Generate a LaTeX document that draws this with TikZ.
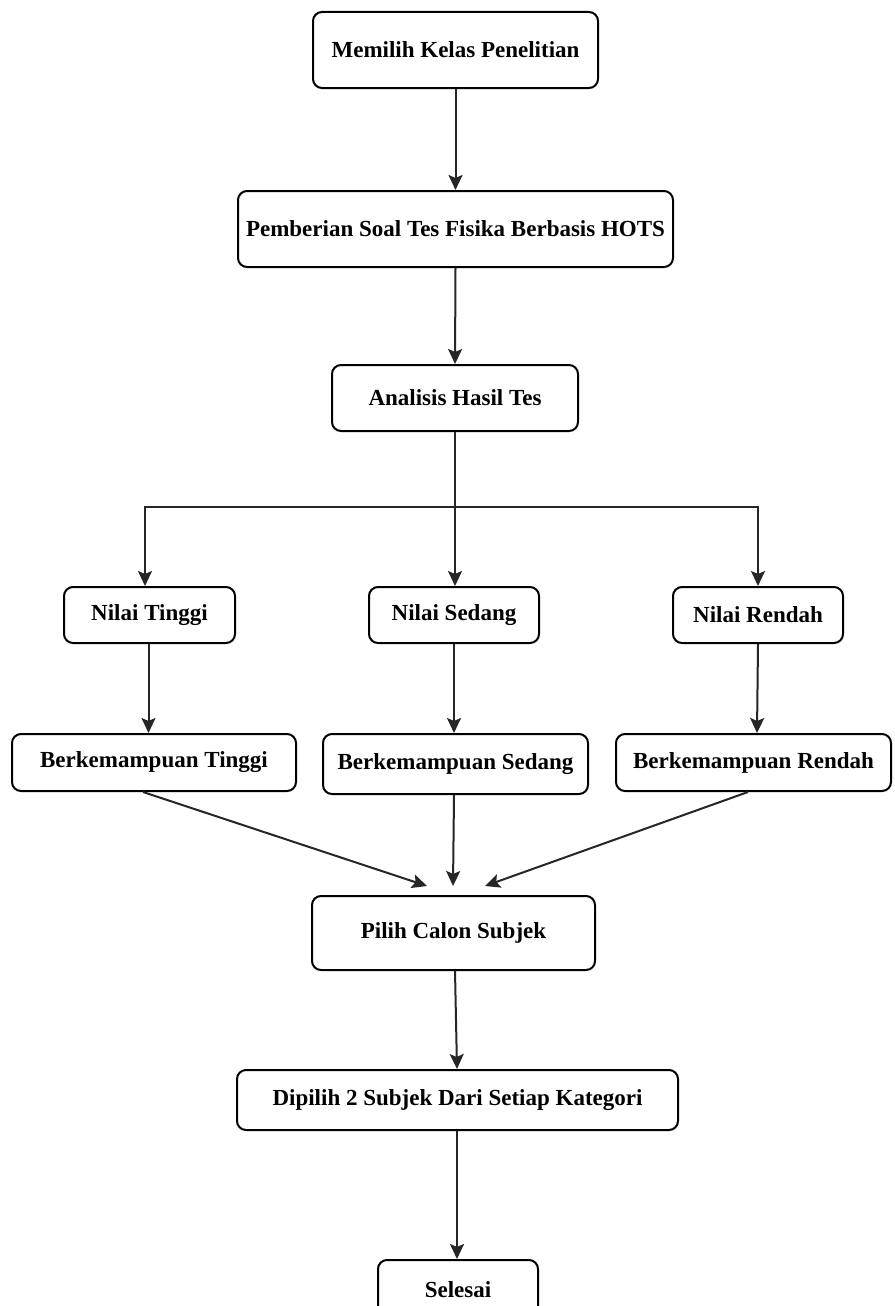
\documentclass[tikz,border=0pt]{standalone}
\usepackage{fontspec}
\setmainfont{Liberation Serif}
\usetikzlibrary{arrows.meta}
\begin{document}
\begin{tikzpicture}[x=1pt,y=-1pt,
  box/.style={draw=black, line width=2pt, rounded corners=9pt, fill=white,
    inner sep=0pt, align=center, font=\fontsize{23}{27}\selectfont\bfseries},
  arr/.style={draw=black!85, line width=2pt, -{Stealth[width=14pt,length=15pt,inset=3pt]}},
  ln/.style={draw=black!85, line width=2pt}]
\clip (0,0) rectangle (894,1306);
\fill[white] (0,0) rectangle (894,1306);
\node[box, minimum width=285pt, minimum height=76pt] (m1) at (455.5,50) {Memilih Kelas Penelitian};
\node[box, minimum width=435pt, minimum height=76pt] (m2) at (455.5,229) {Pemberian Soal Tes Fisika Berbasis HOTS};
\node[box, minimum width=246pt, minimum height=66pt] (m3) at (455,398) {Analisis Hasil Tes};
\node[box, minimum width=171pt, minimum height=56pt] (nT) at (149.5,615) {Nilai Tinggi};
\node[box, minimum width=170pt, minimum height=56pt] (nS) at (454,615) {Nilai Sedang};
\node[box, minimum width=170pt, minimum height=56pt] (nR) at (758,615) {Nilai Rendah};
\node[box, minimum width=284pt, minimum height=57pt] (bT) at (154,762.5) {Berkemampuan Tinggi};
\node[box, minimum width=265pt, minimum height=60pt] (bS) at (455.5,764) {Berkemampuan Sedang};
\node[box, minimum width=275pt, minimum height=57pt] (bR) at (753.5,762.5) {Berkemampuan Rendah};
\node[box, minimum width=283pt, minimum height=74pt] (pc) at (453.5,933) {Pilih Calon Subjek};
\node[box, minimum width=441pt, minimum height=60pt] (dp) at (457.5,1100) {Dipilih 2 Subjek Dari Setiap Kategori};
\node[box, minimum width=160pt, minimum height=60pt] (sl) at (458,1290) {Selesai};
\coordinate (j) at (455,507);
\coordinate (tT) at (427,886);
\coordinate (tS) at (453,886);
\coordinate (tR) at (485,886);
\draw[arr] (m1.south) -- (m2.north);
\draw[arr] (m2.south) -- (m3.north);
\draw[ln] (m3.south) -- (j);
\draw[arr] (j) -| ([xshift=-4.5pt]nT.north);
\draw[arr] (j) -- (j |- nS.north);
\draw[arr] (j) -| (nR.north);
\draw[arr] ([xshift=-1pt]nT.south) -- ([xshift=-5.5pt]bT.north);
\draw[arr] (nS.south) -- (nS.south |- bS.north);
\draw[arr] (nR.south) -- ([xshift=3.5pt]bR.north);
\draw[arr] ([xshift=-11pt]bT.south) -- (tT);
\draw[arr] ([xshift=-1.5pt]bS.south) -- (tS);
\draw[arr] ([xshift=-5.5pt]bR.south) -- (tR);
\draw[arr] ([xshift=1.5pt]pc.south) -- ([xshift=-0.5pt]dp.north);
\draw[arr] ([xshift=-0.5pt]dp.south) -- ([xshift=-1pt]sl.north);
\end{tikzpicture}
\end{document}
